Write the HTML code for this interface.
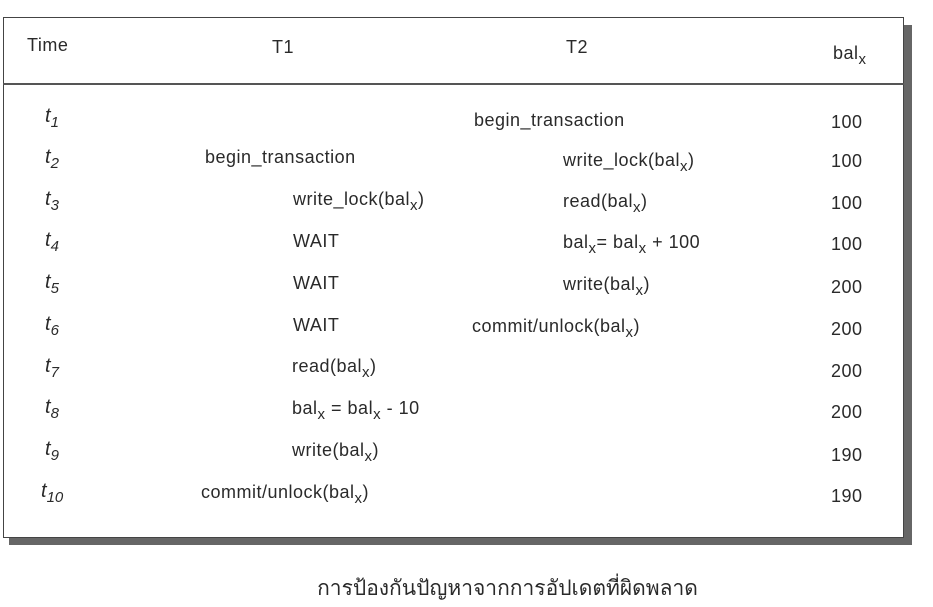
<!DOCTYPE html>
<html><head><meta charset="utf-8"><style>
body{margin:0;width:933px;height:607px;background:#fff;position:relative;overflow:hidden;font-family:"Liberation Sans",Arial,sans-serif;color:#2a2a2a;}
.t{position:absolute;font-size:18px;letter-spacing:0.5px;line-height:20px;white-space:nowrap;}
.i{font-style:italic;font-size:20px;letter-spacing:0;}
sub{font-size:15px;vertical-align:-5px;line-height:0;}
.box{position:absolute;left:3px;top:17px;width:899px;height:519px;border:1.5px solid #444;background:#fff;}
.sr{position:absolute;left:904px;top:25px;width:8px;height:520px;background:#666;}
.sb{position:absolute;left:9px;top:538px;width:903px;height:7px;background:#666;}
.hl{position:absolute;left:3px;top:83px;width:901px;height:2px;background:#555;}
</style></head><body>
<div class="sr"></div><div class="sb"></div>
<div class="box"></div><div class="hl"></div>
<div class="t" style="left:27px;top:35px">Time</div>
<div class="t" style="left:272px;top:37px">T1</div>
<div class="t" style="left:566px;top:37px">T2</div>
<div class="t" style="left:833px;top:43px">bal<sub>x</sub></div>

<div class="t i" style="left:45px;top:106px">t<sub>1</sub></div>
<div class="t i" style="left:45px;top:147px">t<sub>2</sub></div>
<div class="t i" style="left:45px;top:189px">t<sub>3</sub></div>
<div class="t i" style="left:45px;top:230px">t<sub>4</sub></div>
<div class="t i" style="left:45px;top:272px">t<sub>5</sub></div>
<div class="t i" style="left:45px;top:314px">t<sub>6</sub></div>
<div class="t i" style="left:45px;top:356px">t<sub>7</sub></div>
<div class="t i" style="left:45px;top:397px">t<sub>8</sub></div>
<div class="t i" style="left:45px;top:439px">t<sub>9</sub></div>
<div class="t i" style="left:41px;top:481px">t<sub>10</sub></div>

<div class="t" style="left:474px;top:110px">begin_transaction</div>
<div class="t" style="left:205px;top:147px">begin_transaction</div>
<div class="t" style="left:563px;top:150px">write_lock(bal<sub>x</sub>)</div>
<div class="t" style="left:293px;top:189px">write_lock(bal<sub>x</sub>)</div>
<div class="t" style="left:563px;top:191px">read(bal<sub>x</sub>)</div>
<div class="t" style="left:293px;top:231px">WAIT</div>
<div class="t" style="left:563px;top:232px">bal<sub>x</sub>= bal<sub>x</sub> + 100</div>
<div class="t" style="left:293px;top:273px">WAIT</div>
<div class="t" style="left:563px;top:274px">write(bal<sub>x</sub>)</div>
<div class="t" style="left:293px;top:315px">WAIT</div>
<div class="t" style="left:472px;top:316px">commit/unlock(bal<sub>x</sub>)</div>
<div class="t" style="left:292px;top:356px">read(bal<sub>x</sub>)</div>
<div class="t" style="left:292px;top:398px">bal<sub>x</sub> = bal<sub>x</sub> - 10</div>
<div class="t" style="left:292px;top:440px">write(bal<sub>x</sub>)</div>
<div class="t" style="left:201px;top:482px">commit/unlock(bal<sub>x</sub>)</div>

<div class="t" style="left:831px;top:112px">100</div>
<div class="t" style="left:831px;top:151px">100</div>
<div class="t" style="left:831px;top:193px">100</div>
<div class="t" style="left:831px;top:234px">100</div>
<div class="t" style="left:831px;top:277px">200</div>
<div class="t" style="left:831px;top:319px">200</div>
<div class="t" style="left:831px;top:361px">200</div>
<div class="t" style="left:831px;top:402px">200</div>
<div class="t" style="left:831px;top:445px">190</div>
<div class="t" style="left:831px;top:486px">190</div>

<div class="t" style="left:315px;top:576px;font-family:'Liberation Serif','Noto Serif CJK SC',serif;font-size:21px;letter-spacing:0;line-height:24px;width:385px;text-align:center">การป้องกันปัญหาจากการอัปเดตที่ผิดพลาด</div>
</body></html>
